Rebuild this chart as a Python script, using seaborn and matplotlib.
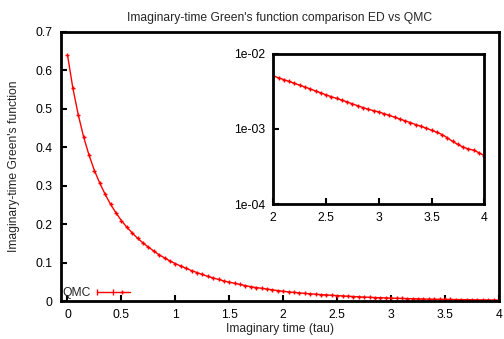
import numpy as np
import pandas as pd
import seaborn as sns
import matplotlib
matplotlib.use("Agg")
import matplotlib.pyplot as plt
from matplotlib.lines import Line2D
from matplotlib.legend_handler import HandlerLine2D, HandlerTuple
from matplotlib.ticker import FixedLocator, FuncFormatter

# ---- data -------------------------------------------------------------
tau_main = [round(0.05 * i, 2) for i in range(81)]
g_main = [0.640, 0.553, 0.484, 0.426, 0.379, 0.339, 0.306, 0.277, 0.251, 0.229,
          0.209, 0.192, 0.177, 0.163, 0.151, 0.140, 0.130, 0.120, 0.112, 0.104,
          0.097, 0.091, 0.085, 0.079, 0.074, 0.069, 0.064, 0.060, 0.056, 0.052,
          0.049, 0.046, 0.043, 0.040, 0.037, 0.035, 0.033, 0.031, 0.029, 0.027,
          0.025, 0.0236, 0.0223, 0.0210, 0.0198, 0.0187, 0.0176, 0.0166, 0.0157, 0.0148,
          0.0140, 0.0132, 0.0124, 0.0116, 0.0109, 0.0102, 0.0096, 0.0090, 0.0085, 0.0080,
          0.0075, 0.0071, 0.0067, 0.0063, 0.0059, 0.0055, 0.0052, 0.0049, 0.0046, 0.0044,
          0.0042, 0.0040, 0.0038, 0.0036, 0.0034, 0.0032, 0.0030, 0.0028, 0.0026, 0.0024,
          0.0023]

tau_inset = [round(2 + 0.05 * i, 2) for i in range(41)]
g_inset = [0.00506, 0.00478, 0.00452, 0.00427, 0.00404, 0.00381, 0.00360, 0.00340, 0.00319, 0.00301,
           0.00283, 0.00268, 0.00254, 0.00241, 0.00228, 0.00215, 0.00203, 0.00192, 0.00182, 0.00175,
           0.00168, 0.00159, 0.00151, 0.00143, 0.00135, 0.00128, 0.00121, 0.00114, 0.00108, 0.00102,
           0.00096, 0.00090, 0.00084, 0.00076, 0.00068, 0.00062, 0.00057, 0.00054, 0.00052, 0.00048,
           0.00044]

main_xticks = [0, 0.5, 1, 1.5, 2, 2.5, 3, 3.5, 4]
main_yticks = [0, 0.1, 0.2, 0.3, 0.4, 0.5, 0.6, 0.7]
inset_xticks = [2, 2.5, 3, 3.5, 4]
inset_yticks = [1e-4, 1e-3, 1e-2]

title = "Imaginary-time Green's function comparison ED vs QMC"
xlabel = "Imaginary time (tau)"
ylabel = "Imaginary-time Green's function"
series_name = "QMC"

# ---- style ------------------------------------------------------------
sns.set_style("white")
plt.rcParams['font.family'] = ['Liberation Sans', 'DejaVu Sans']
FS = 8.7

fig = plt.figure(figsize=(5.04, 3.39), dpi=100)
ax = fig.add_axes([61 / 504, 1 - 301 / 339, (499 - 61) / 504, (301 - 31.7) / 339])

df_main = pd.DataFrame({"tau": tau_main, "G": g_main})
sns.lineplot(data=df_main, x="tau", y="G", ax=ax, color="red", lw=1.0,
             marker="+", markersize=3.5, markeredgewidth=1.0, markeredgecolor="red",
             legend=False)

ax.set_xlim(-0.06, 4)
ax.set_ylim(0, 0.7)
ax.xaxis.set_major_locator(FixedLocator(main_xticks))
ax.yaxis.set_major_locator(FixedLocator(main_yticks))
ax.xaxis.set_major_formatter(FuncFormatter(lambda v, p: f"{v:g}"))
ax.yaxis.set_major_formatter(FuncFormatter(lambda v, p: f"{v:g}"))
ax.tick_params(direction="in", length=4, width=1.5, labelsize=FS, colors="black",
               pad=6, bottom=True, left=True, top=False, right=False)
for s in ax.spines.values():
    s.set_linewidth(2)
    s.set_color("black")
ax.set_title(title, fontsize=FS, pad=8)
ax.set_xlabel(xlabel, fontsize=FS, labelpad=1)
ax.set_ylabel(ylabel, fontsize=FS, labelpad=11)

# legend with errorbar-like sample
l_caps = Line2D([], [], color="red", lw=1.0, marker="|", markersize=4, markeredgewidth=1.0)
l_mid = Line2D([], [], color="red", lw=1.0, marker="+", markersize=3.5, markeredgewidth=1.0)
leg = ax.legend([(l_caps, l_mid)], [series_name], loc="lower left",
                handler_map={l_caps: HandlerLine2D(numpoints=2, marker_pad=0.0),
                             l_mid: HandlerLine2D(numpoints=1),
                             tuple: HandlerTuple(ndivide=None)},
                frameon=False, fontsize=FS, markerfirst=False, handlelength=2.7,
                borderaxespad=0.05, borderpad=0.1, handletextpad=0.5)

# ---- inset ------------------------------------------------------------
axi = fig.add_axes([273.3 / 504, 1 - 204 / 339, (484.3 - 273.3) / 504, (204 - 53.7) / 339])
df_inset = pd.DataFrame({"tau": tau_inset, "G": g_inset})
sns.lineplot(data=df_inset, x="tau", y="G", ax=axi, color="red", lw=1.0,
             marker="+", markersize=3.5, markeredgewidth=1.0, markeredgecolor="red",
             legend=False)
axi.set_yscale("log")
axi.set_xlim(2, 4)
axi.set_ylim(1e-4, 1e-2)
axi.xaxis.set_major_locator(FixedLocator(inset_xticks))
axi.yaxis.set_major_locator(FixedLocator(inset_yticks))
axi.yaxis.set_minor_locator(FixedLocator([]))
axi.xaxis.set_major_formatter(FuncFormatter(lambda v, p: f"{v:g}"))
axi.yaxis.set_major_formatter(FuncFormatter(lambda v, p: f"{v:.0e}"))
axi.tick_params(direction="in", length=4, width=1.5, labelsize=FS, colors="black",
                pad=6, bottom=True, left=True, top=False, right=False)
for s in axi.spines.values():
    s.set_linewidth(2)
    s.set_color("black")
axi.set_xlabel("")
axi.set_ylabel("")

fig.savefig("out.png", dpi=100)
